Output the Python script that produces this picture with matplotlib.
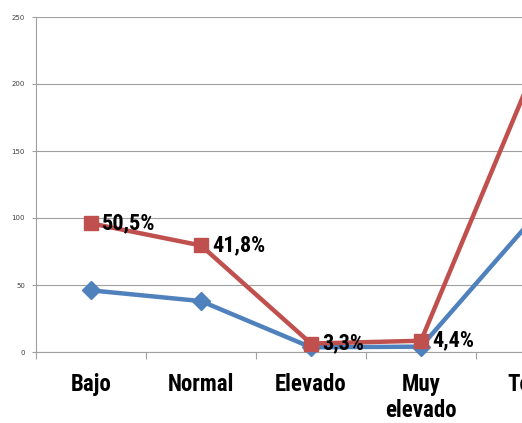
import matplotlib
matplotlib.use("Agg")
import matplotlib.pyplot as plt
from matplotlib import font_manager

categories = ["Bajo", "Normal", "Elevado", "Muy\nelevado", "Total"]
serie_azul = [46, 38, 3.5, 4, 98]
serie_roja = [96, 79.5, 6.3, 8.4, 205]
etiquetas_roja = ["50,5%", "41,8%", "3,3%", "4,4%", ""]
yticks = [0, 50, 100, 150, 200, 250]

names = {f.name for f in font_manager.fontManager.ttflist}
fam = "Liberation Sans Narrow" if "Liberation Sans Narrow" in names else "Roboto Condensed" if "Roboto Condensed" in names else "Liberation Sans"

W, H = 522, 423
fig = plt.figure(figsize=(W/100, H/100), dpi=100)
left = 36 / W
right = 586 / W
bottom = 1 - 352 / H
top = 1 - 17 / H
ax = fig.add_axes([left, bottom, right - left, top - bottom])

x = list(range(len(categories)))
ax.plot(x, serie_azul, color="#4F81BD", lw=3.2, marker="D", ms=9, clip_on=False, zorder=3)
ax.plot(x, serie_roja, color="#C0504D", lw=3.2, marker="s", ms=10, clip_on=False, zorder=4)

for xi, yi, t in zip(x, serie_roja, etiquetas_roja):
    if not t:
        continue
    ax.annotate(t, (xi, yi), xytext=(8, 0), textcoords="offset points",
                ha="left", va="center", fontsize=16, fontweight="bold",
                family=fam, color="black", zorder=5)

ax.set_xlim(-0.5, len(categories) - 0.5)
ax.set_ylim(0, 250)
ax.set_yticks(yticks)
ax.set_yticklabels([str(v) for v in yticks], fontsize=5, color="#404040")
ax.yaxis.grid(True, color="#A0A0A0", lw=0.8)
ax.set_axisbelow(True)

ax.set_xticks([i - 0.5 for i in range(len(categories) + 1)], minor=False)
ax.set_xticklabels([])
ax.set_xticks(x, minor=True)
ax.set_xticklabels(categories, minor=True, fontsize=16.5, fontweight="bold",
                   family=fam, linespacing=1.2)
ax.tick_params(axis="x", which="major", length=5, color="#A0A0A0", width=0.8)
ax.tick_params(axis="x", which="minor", length=0, pad=15)
ax.tick_params(axis="y", length=3, color="#A0A0A0", width=0.8, pad=5)
for lab in ax.get_xticklabels(minor=True):
    lab.set_verticalalignment("top")

for s in ["top", "right"]:
    ax.spines[s].set_visible(False)
ax.spines["left"].set_color("#A0A0A0")
ax.spines["bottom"].set_color("#A0A0A0")
ax.spines["left"].set_linewidth(0.8)
ax.spines["bottom"].set_linewidth(0.8)

fig.savefig("out.png", dpi=100)
